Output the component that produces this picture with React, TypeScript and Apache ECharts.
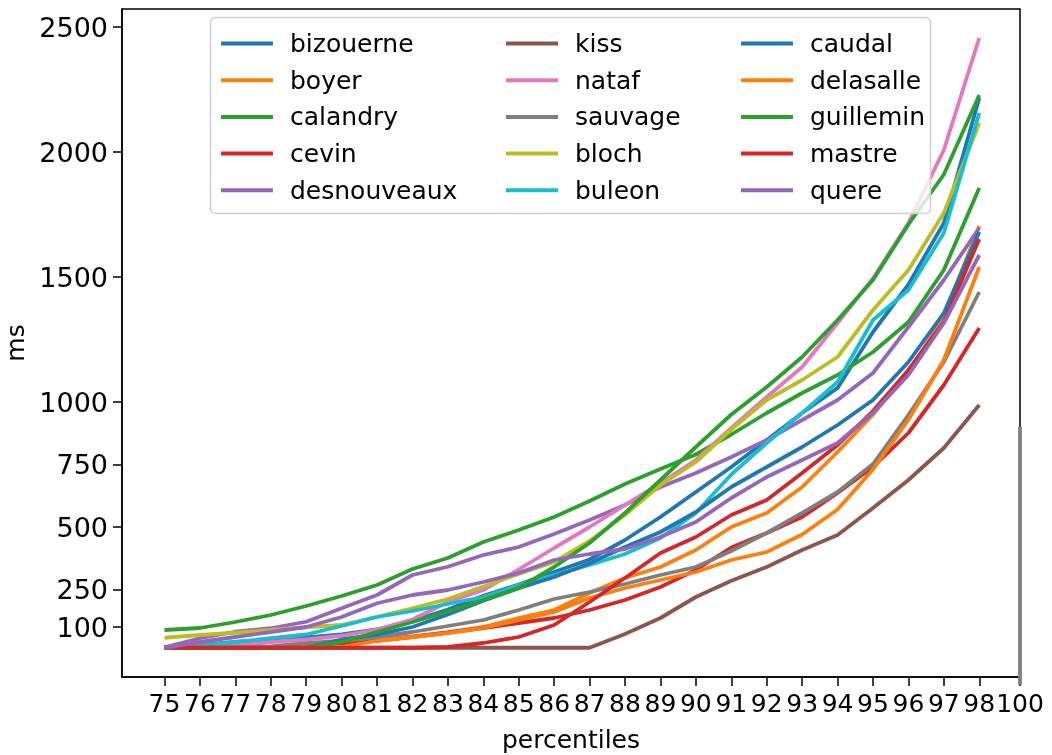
import React, { useEffect, useRef } from "react";
import * as echarts from "echarts";

const percentiles = ["75","76","77","78","79","80","81","82","83","84","85","86","87","88","89","90","91","92","93","94","95","96","97","98"];
const extraTickLabel = "100";
const yTicks = [100, 250, 500, 750, 1000, 1500, 2000, 2500];

const names = ["bizouerne","boyer","calandry","cevin","desnouveaux","kiss","nataf","sauvage","bloch","buleon","caudal","delasalle","guillemin","mastre","quere"];
const colors = ["#1f77b4","#ff7f0e","#2ca02c","#d62728","#9467bd","#8c564b","#e377c2","#7f7f7f","#bcbd22","#17becf","#1f77b4","#ff7f0e","#2ca02c","#d62728","#9467bd"];

const bizouerne = [17,28,40,50,58,70,90,125,170,225,270,320,370,448,540,640,740,848,956,1056,1280,1470,1716,2216];
const boyer = [17,17,17,17,17,20,50,62,78,100,136,168,236,296,340,408,500,556,660,800,950,1120,1340,1704];
const calandry = [88,96,120,148,184,224,268,332,376,440,488,540,604,672,732,790,870,956,1036,1108,1200,1320,1528,1856];
const cevin = [17,17,17,17,17,30,45,60,78,96,116,136,168,208,260,328,418,476,540,636,740,876,1068,1296];
const desnouveaux = [19,55,81,95,121,175,228,308,341,388,420,472,528,588,660,716,780,848,928,1008,1116,1300,1488,1696];
const kiss = [17,17,17,17,17,17,17,17,17,17,17,17,17,72,136,220,285,340,408,468,576,688,816,988];
const nataf = [17,17,25,40,50,65,90,130,200,248,330,416,500,588,676,768,896,1020,1140,1316,1495,1716,2008,2456];
const sauvage = [17,17,17,22,35,45,60,80,104,128,168,212,240,272,308,340,404,476,556,640,752,948,1160,1440];
const bloch = [57,68,77,88,99,108,141,175,212,262,312,360,444,548,668,760,890,1008,1088,1180,1368,1528,1756,2116];
const buleon = [17,25,40,55,70,104,140,164,192,220,268,308,348,392,456,556,710,836,956,1080,1328,1448,1676,2156];
const caudal = [17,17,17,17,17,50,70,100,150,205,255,300,355,420,480,560,660,740,820,908,1008,1160,1356,1680];
const delasalle = [17,17,17,17,17,20,45,60,76,96,128,160,216,256,288,320,368,400,470,570,730,928,1168,1540];
const guillemin = [17,17,17,17,17,40,80,120,162,208,256,340,436,556,688,820,950,1060,1180,1328,1488,1710,1910,2228];
const mastre = [17,17,17,17,17,17,17,17,20,36,60,108,200,296,396,460,548,608,716,828,964,1128,1320,1652];
const quere = [17,40,60,80,100,140,195,228,248,280,316,368,392,412,460,520,616,700,768,836,956,1108,1316,1588];

// the grey stroke standing at the "100" tick
const at100 = [900, -130];

const values = [bizouerne, boyer, calandry, cevin, desnouveaux, kiss, nataf, sauvage, bloch, buleon, caudal, delasalle, guillemin, mastre, quere];

export default function App() {
  const ref = useRef<HTMLDivElement>(null);
  useEffect(() => {
    if (!ref.current) return;
    const chart = echarts.init(ref.current, null, { renderer: "svg" });
    const pos100 = percentiles.length + 0.15;
    const tickPositions = [...percentiles.map((_, i) => i), pos100];
    const labelFor = (v: number) => {
      const i = Math.round(v);
      if (i < percentiles.length && Math.abs(v - i) < 0.01) return percentiles[i];
      if (Math.abs(v - pos100) < 0.01) return extraTickLabel;
      return "";
    };
    const font = "DejaVu Sans";
    const series: any[] = names.map((n, k) => ({
      name: n,
      type: "line",
      data: values[k].map((v, i) => [i, v]),
      symbol: "none",
      color: colors[k],
      lineStyle: { width: 3.8, color: colors[k] },
      clip: true,
      z: 2 + k * 0.01,
    }));
    series.push({
      name: "_100",
      type: "line",
      data: at100.map((v) => [pos100, v]),
      symbol: "none",
      color: "#7f7f7f",
      lineStyle: { width: 3.8, color: "#7f7f7f" },
      clip: false,
      z: 2.5,
    });
    const legendBase = (left: number, data: string[]) => ({
      show: true,
      orient: "vertical",
      left,
      top: 26,
      data,
      icon: "rect",
      itemWidth: 52,
      itemHeight: 4,
      itemGap: 11.7,
      selectedMode: false,
      textStyle: { fontFamily: font, fontSize: 25, color: "#000", lineHeight: 25, padding: [0, 0, 0, 12] },
      z: 5,
    });
    chart.setOption({
      animation: false,
      textStyle: { fontFamily: font },
      grid: { left: 122, top: 9, width: 898, height: 668, outerBoundsMode: "none", containLabel: false, show: true, borderColor: "#000", borderWidth: 1.5, backgroundColor: "transparent" },
      xAxis: {
        type: "value",
        min: -1.2,
        max: pos100,
        name: "percentiles",
        nameLocation: "middle",
        nameGap: 50,
        nameTextStyle: { fontFamily: font, fontSize: 25, color: "#000" },
        splitLine: { show: false },
        axisLine: { show: true, onZero: false, lineStyle: { color: "#000", width: 1.5 } },
        axisTick: { show: true, length: 9, customValues: tickPositions, lineStyle: { color: "#000", width: 1.5 } },
        axisLabel: { customValues: tickPositions, formatter: labelFor, fontFamily: font, fontSize: 25, color: "#000", margin: 14 },
      },
      yAxis: {
        type: "value",
        min: -100,
        max: 2572,
        name: "ms",
        nameLocation: "middle",
        nameGap: 90,
        nameRotate: 90,
        nameTextStyle: { fontFamily: font, fontSize: 25, color: "#000" },
        splitLine: { show: false },
        axisLine: { show: true, onZero: false, lineStyle: { color: "#000", width: 1.5 } },
        axisTick: { show: true, length: 9, customValues: yTicks, lineStyle: { color: "#000", width: 1.5 } },
        axisLabel: { customValues: yTicks, formatter: (v: number) => String(v), fontFamily: font, fontSize: 27, color: "#000", margin: 14 },
      },
      legend: [
        legendBase(216, names.slice(0, 5)),
        legendBase(501, names.slice(5, 10)),
        legendBase(736, names.slice(10, 15)),
      ],
      graphic: [
        {
          type: "rect",
          z: 4,
          shape: { x: 210.5, y: 17.5, width: 720, height: 196, r: 5 },
          style: { fill: "rgba(255,255,255,0.8)", stroke: "#d0d0d0", lineWidth: 1.5 },
        },
      ],
      series,
    });
    return () => chart.dispose();
  }, []);
  return <div ref={ref} style={{ position: "fixed", left: 0, top: 0, width: 1052, height: 755 }} />;
}
